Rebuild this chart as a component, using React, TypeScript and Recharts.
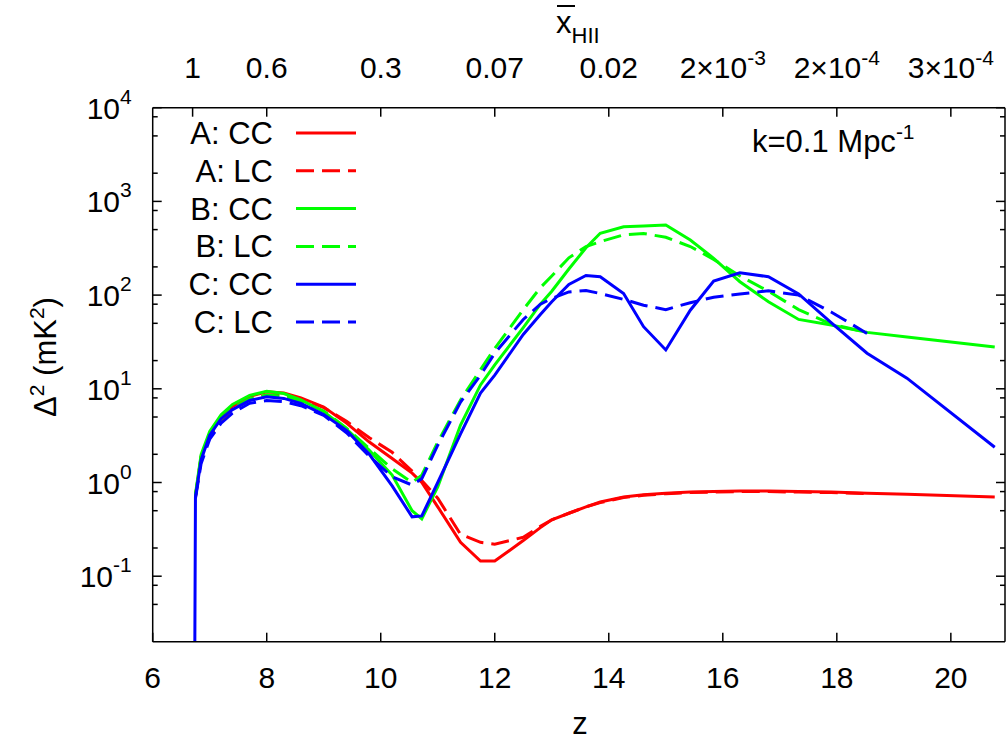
import React from "react";
import { LineChart, Line, XAxis, YAxis } from "recharts";

const FONT = '"Liberation Sans", Arial, Helvetica, sans-serif';

// redshift samples shared by all runs
const zValues = [
  6.73, 6.75, 6.85, 7.0, 7.2, 7.4, 7.7, 8.0, 8.3, 8.6, 9.0, 9.4, 9.8, 10.2, 10.55, 10.72, 11.0, 11.4, 11.75,
  12.0, 12.5, 12.8, 13.0, 13.3, 13.6, 13.85, 14.26, 14.61, 15.0, 15.43, 15.84, 16.3, 16.8, 17.33, 17.9, 18.53,
  19.23, 20.77,
];

const aCC = [
  null, 0.72, 1.9, 3.3, 5.0, 6.5, 8.3, 9.3, 9.0, 8.0, 6.4, 4.3, 2.7, 1.8, 1.26, 1.0, 0.55, 0.23, 0.145,
  0.145, 0.24, 0.33, 0.4, 0.47, 0.55, 0.62, 0.7, 0.74, 0.77, 0.79, 0.8, 0.81, 0.81, 0.8, 0.79, 0.77,
  0.75, 0.7,
];
const aLC = [
  null, 0.7, 1.8, 3.1, 4.6, 6.0, 7.6, 8.6, 8.5, 7.8, 6.3, 4.5, 3.0, 2.1, 1.32, 1.05, 0.68, 0.28, 0.23,
  0.22, 0.26, 0.34, 0.4, 0.47, 0.55, 0.61, 0.69, 0.73, 0.76, 0.78, 0.79, 0.8, 0.8, 0.79, 0.78, 0.76,
  null, null,
];
const bCC = [
  null, 0.75, 2.0, 3.5, 5.3, 6.8, 8.5, 9.4, 8.9, 7.6, 5.7, 3.7, 2.2, 1.2, 0.5, 0.41, 0.9, 4.1, 11,
  18, 45, 80, 110, 190, 320, 457, 537, 545, 560, 387, 247, 139, 85, 55, 48, 40,
  35.8, 28,
];
const bLC = [
  null, 0.72, 1.9, 3.2, 4.8, 6.2, 7.8, 8.6, 8.3, 7.4, 5.8, 3.8, 2.3, 1.4, 1.0, 1.2, 2.7, 7.6, 16,
  27, 70, 120, 160, 250, 330, 372, 440, 455, 414, 330, 240, 160, 110, 70, 49, 40,
  null, null,
];
const cCC = [
  0.001, 0.7, 1.75, 3.2, 4.8, 6.0, 7.5, 8.2, 7.9, 7.0, 5.3, 3.6, 2.0, 0.92, 0.43, 0.44, 1.0, 3.3, 9,
  14, 38, 62, 85, 130, 162, 157, 104, 46, 26, 69, 141, 173, 157, 103, 51, 24,
  13, 2.38,
];
const cLC = [
  null, 0.68, 1.6, 2.9, 4.3, 5.5, 7.0, 7.5, 7.3, 6.6, 5.2, 3.4, 1.9, 1.15, 0.94, 1.1, 2.5, 7.2, 14,
  24, 55, 80, 92, 108, 112, 104, 90, 78, 70, 83, 95, 103, 111, 100, 66, 39,
  null, null,
];

const bottomTicks = [6, 8, 10, 12, 14, 16, 18, 20];
const topTicks = [6.7, 8, 10, 12, 14, 16, 18, 20];
const topTickLabels: [string, string?][] = [
  ["1"], ["0.6"], ["0.3"], ["0.07"], ["0.02"], ["2×10", "-3"], ["2×10", "-4"], ["3×10", "-4"],
];
const yTicks = [
  0.05, 0.08, 0.1, 0.2, 0.5, 0.8, 1, 2, 5, 8, 10, 20, 50, 80, 100, 200, 500, 800, 1000, 2000, 5000, 8000, 10000,
];

const series = [
  { key: "aCC", name: "A: CC", color: "#ff0000", dash: undefined },
  { key: "aLC", name: "A: LC", color: "#ff0000", dash: "18 8" },
  { key: "bCC", name: "B: CC", color: "#00ff00", dash: undefined },
  { key: "bLC", name: "B: LC", color: "#00ff00", dash: "18 8" },
  { key: "cCC", name: "C: CC", color: "#0000ff", dash: undefined },
  { key: "cLC", name: "C: LC", color: "#0000ff", dash: "18 8" },
];

const data = zValues.map((z, i) => ({
  z,
  aCC: aCC[i],
  aLC: aLC[i],
  bCC: bCC[i],
  bLC: bLC[i],
  cCC: cCC[i],
  cLC: cLC[i],
}));

const isMajor = (v: number) => Math.abs(Math.log10(v) - Math.round(Math.log10(v))) < 1e-6;

function BottomTick({ x, y, payload }: any) {
  return (
    <g>
      <line x1={x} y1={y} x2={x} y2={y - 9} stroke="#000" strokeWidth={1.5} />
      <text x={x} y={y + 46} textAnchor="middle" fontSize={30} fontFamily={FONT} fill="#000">
        {payload.value}
      </text>
    </g>
  );
}

function TopTick({ x, y, payload }: any) {
  const idx = topTicks.indexOf(payload.value);
  const lab = topTickLabels[idx] || [String(payload.value)];
  return (
    <g>
      <line x1={x} y1={y} x2={x} y2={y + 9} stroke="#000" strokeWidth={1.5} />
      <text x={x} y={y - 30} textAnchor="middle" fontSize={30} fontFamily={FONT} fill="#000">
        {lab[0]}
        {lab[1] && (
          <tspan dy={-13} fontSize={21}>
            {lab[1]}
          </tspan>
        )}
      </text>
    </g>
  );
}

function LeftTick({ x, y, payload }: any) {
  const major = isMajor(payload.value);
  const exp = Math.round(Math.log10(payload.value));
  return (
    <g>
      <line x1={x} y1={y} x2={x + (major ? 9 : 5)} y2={y} stroke="#000" strokeWidth={1.5} />
      {major && (
        <text x={x - 21} y={y + 11} textAnchor="end" fontSize={30} fontFamily={FONT} fill="#000">
          10
          <tspan dy={-15} fontSize={21}>
            {exp}
          </tspan>
        </text>
      )}
    </g>
  );
}

function RightTick({ x, y, payload }: any) {
  const major = isMajor(payload.value);
  return <line x1={x} y1={y} x2={x - (major ? 9 : 5)} y2={y} stroke="#000" strokeWidth={1.5} />;
}

function Overlay() {
  const rowTop = 133;
  const rowGap = 37.8;
  return (
    <svg
      width={1006}
      height={743}
      style={{ position: "absolute", left: 0, top: 0, pointerEvents: "none" }}
      fontFamily={FONT}
    >
      {series.map((s, i) => {
        const y = rowTop + i * rowGap;
        return (
          <g key={s.key}>
            <text x={273} y={y + 11} textAnchor="end" fontSize={31} fill="#000">
              {s.name}
            </text>
            <line x1={296} y1={y} x2={356} y2={y} stroke={s.color} strokeWidth={3} strokeDasharray={s.dash} />
          </g>
        );
      })}
      <text x={752} y={152} fontSize={31} fill="#000">
        k=0.1 Mpc
        <tspan dy={-13} fontSize={21}>
          -1
        </tspan>
      </text>
      <text x={580} y={734} textAnchor="middle" fontSize={31} fill="#000">
        z
      </text>
      <line x1={557} y1={6} x2={575} y2={6} stroke="#000" strokeWidth={2} />
      <text x={556} y={33} fontSize={31} fill="#000">
        x
        <tspan dy={10} fontSize={22}>
          HII
        </tspan>
      </text>
      <text transform="translate(56,357) rotate(-90)" textAnchor="middle" fontSize={31} fill="#000">
        Δ
        <tspan dy={-12} fontSize={21}>
          2
        </tspan>
        <tspan dy={12}> (mK</tspan>
        <tspan dy={-12} fontSize={21}>
          2
        </tspan>
        <tspan dy={12}>)</tspan>
      </text>
    </svg>
  );
}

export default function App() {
  const axisLine = { stroke: "#000", strokeWidth: 1.5 };
  return (
    <div style={{ position: "absolute", left: 0, top: 0, width: 1006, height: 743, background: "#fff" }}>
      <LineChart
        width={1006}
        height={743}
        data={data}
        margin={{ top: 106.7, right: 0, bottom: 100.3, left: 151.7 }}
      >
        <XAxis
          xAxisId="bottom"
          type="number"
          dataKey="z"
          domain={[6, 20.95]}
          allowDataOverflow
          ticks={bottomTicks}
          interval={0}
          height={1}
          tickSize={0}
          tickMargin={0}
          tickLine={false}
          axisLine={axisLine}
          tick={(p: any) => <BottomTick {...p} />}
        />
        <XAxis
          xAxisId="top"
          orientation="top"
          type="number"
          dataKey="z"
          domain={[6, 20.95]}
          allowDataOverflow
          ticks={topTicks}
          interval={0}
          height={1}
          tickSize={0}
          tickMargin={0}
          tickLine={false}
          axisLine={axisLine}
          tick={(p: any) => <TopTick {...p} />}
        />
        <YAxis
          yAxisId="left"
          type="number"
          scale="log"
          domain={[0.02, 10000]}
          allowDataOverflow
          ticks={yTicks}
          interval={0}
          width={1}
          tickSize={0}
          tickMargin={0}
          tickLine={false}
          axisLine={axisLine}
          tick={(p: any) => <LeftTick {...p} />}
        />
        <YAxis
          yAxisId="right"
          orientation="right"
          type="number"
          scale="log"
          domain={[0.02, 10000]}
          allowDataOverflow
          ticks={yTicks}
          interval={0}
          width={1}
          tickSize={0}
          tickMargin={0}
          tickLine={false}
          axisLine={axisLine}
          tick={(p: any) => <RightTick {...p} />}
        />
        {series.map((s) => (
          <Line
            key={s.key}
            xAxisId="bottom"
            yAxisId="left"
            type="linear"
            dataKey={s.key}
            name={s.name}
            stroke={s.color}
            strokeWidth={3}
            strokeDasharray={s.dash}
            dot={false}
            activeDot={false}
            isAnimationActive={false}
          />
        ))}
      </LineChart>
      <Overlay />
    </div>
  );
}
